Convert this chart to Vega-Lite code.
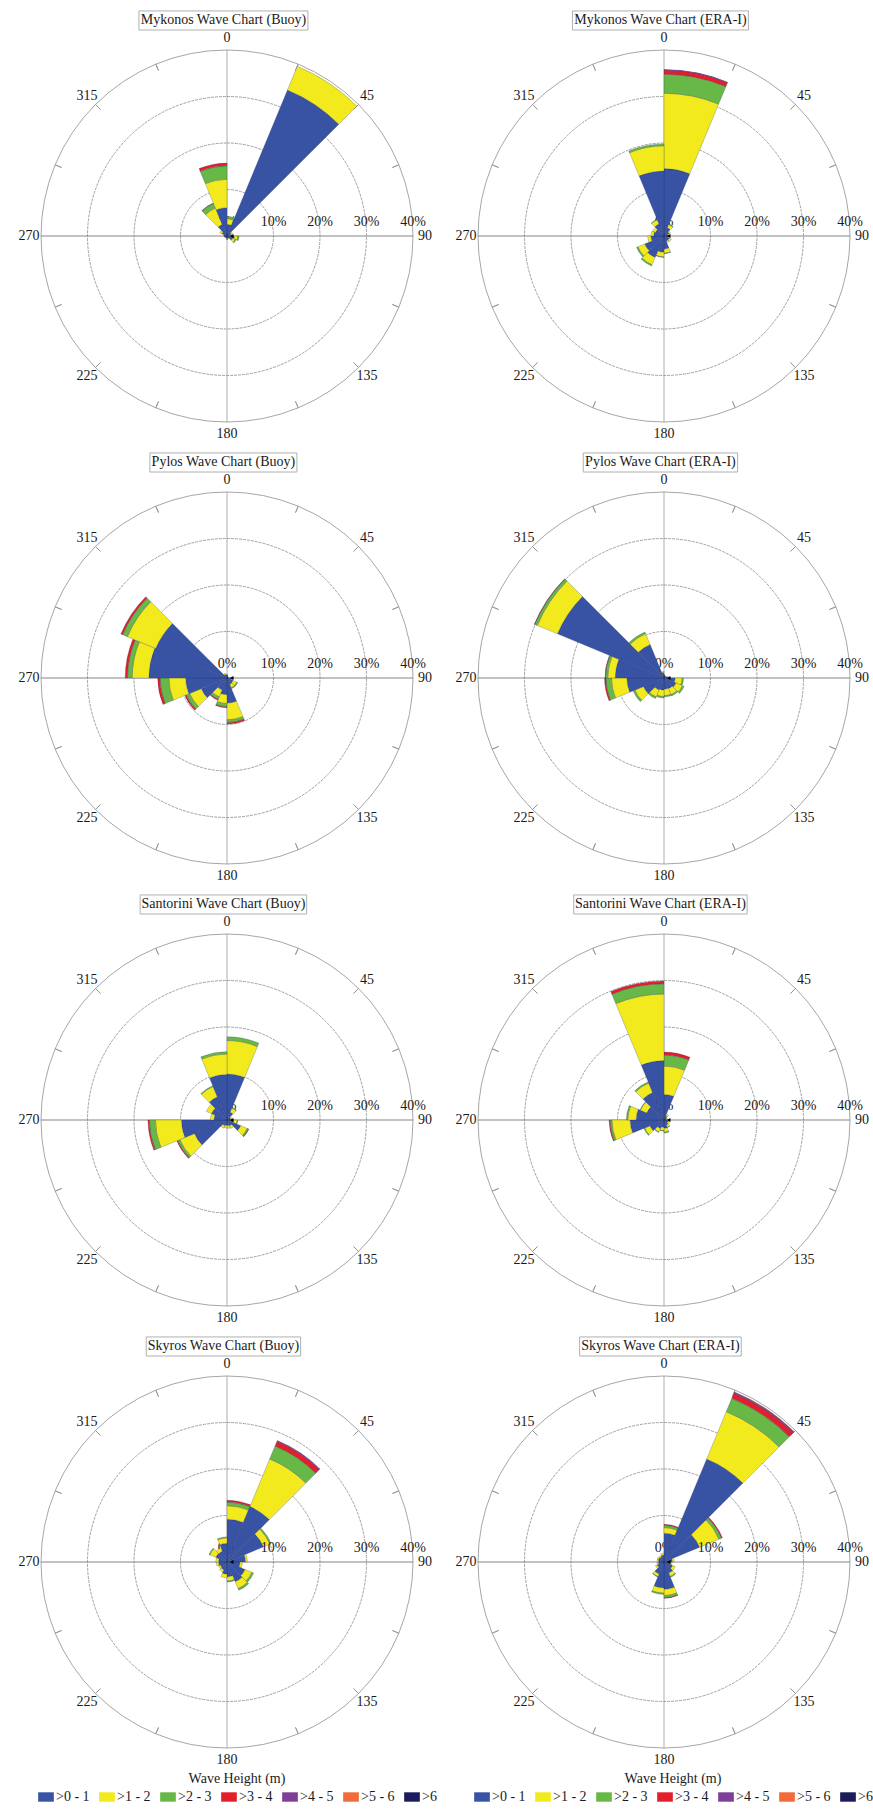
{
  "$schema": "https://vega.github.io/schema/vega-lite/v6.json",
  "background": "white",
  "padding": 0,
  "spacing": 0,
  "config": {
    "view": {"stroke": null},
    "axis": {"disable": true},
    "text": {"font": "Liberation Serif", "fontSize": 14, "color": "#1a1a1a"},
    "legend": {"layout": {"bottom": {"anchor": "end"}}}
  },
  "datasets": {
    "rings": [{"r": 10}, {"r": 20}, {"r": 30}],
    "ticks": [{"a": 22.5}, {"a": 45}, {"a": 67.5}, {"a": 112.5}, {"a": 135}, {"a": 157.5}, {"a": 202.5}, {"a": 225}, {"a": 247.5}, {"a": 292.5}, {"a": 315}, {"a": 337.5}],
    "axticks": [{"t": 5}, {"t": 15}, {"t": 25}, {"t": 35}],
    "pct": [{"r": 10, "lab": "10%"}, {"r": 20, "lab": "20%"}, {"r": 30, "lab": "30%"}, {"r": 40, "lab": "40%"}],
    "dirs": [{"a": 0, "lab": "0"}, {"a": 45, "lab": "45"}, {"a": 90, "lab": "90"}, {"a": 135, "lab": "135"}, {"a": 180, "lab": "180"}, {"a": 225, "lab": "225"}, {"a": 270, "lab": "270"}, {"a": 315, "lab": "315"}],
    "MB": [
      {"d": 0, "h": ">0 - 1", "v": 2.5}, {"d": 0, "h": ">1 - 2", "v": 1.2}, {"d": 0, "h": ">2 - 3", "v": 0.5},
      {"d": 22.5, "h": ">0 - 1", "v": 34}, {"d": 22.5, "h": ">1 - 2", "v": 5.5},
      {"d": 45, "h": ">0 - 1", "v": 1.0}, {"d": 45, "h": ">1 - 2", "v": 0.3},
      {"d": 67.5, "h": ">0 - 1", "v": 0.6}, {"d": 67.5, "h": ">1 - 2", "v": 0.1},
      {"d": 90, "h": ">0 - 1", "v": 1.6}, {"d": 90, "h": ">1 - 2", "v": 0.7}, {"d": 90, "h": ">2 - 3", "v": 0.3},
      {"d": 112.5, "h": ">0 - 1", "v": 1.3}, {"d": 112.5, "h": ">1 - 2", "v": 0.6}, {"d": 112.5, "h": ">2 - 3", "v": 0.2},
      {"d": 135, "h": ">0 - 1", "v": 0.5}, {"d": 135, "h": ">1 - 2", "v": 0.2},
      {"d": 157.5, "h": ">0 - 1", "v": 0.4},
      {"d": 180, "h": ">0 - 1", "v": 0.4},
      {"d": 202.5, "h": ">0 - 1", "v": 0.4},
      {"d": 225, "h": ">0 - 1", "v": 0.5},
      {"d": 247.5, "h": ">0 - 1", "v": 0.6},
      {"d": 270, "h": ">0 - 1", "v": 0.7},
      {"d": 292.5, "h": ">0 - 1", "v": 1.2}, {"d": 292.5, "h": ">1 - 2", "v": 0.5},
      {"d": 315, "h": ">0 - 1", "v": 2.7}, {"d": 315, "h": ">1 - 2", "v": 3.8}, {"d": 315, "h": ">2 - 3", "v": 1.1}, {"d": 315, "h": ">3 - 4", "v": 0.1},
      {"d": 337.5, "h": ">0 - 1", "v": 6.1}, {"d": 337.5, "h": ">1 - 2", "v": 6.1}, {"d": 337.5, "h": ">2 - 3", "v": 2.9}, {"d": 337.5, "h": ">3 - 4", "v": 0.6}
    ],
    "ME": [
      {"d": 0, "h": ">0 - 1", "v": 14.5}, {"d": 0, "h": ">1 - 2", "v": 16.2}, {"d": 0, "h": ">2 - 3", "v": 4.1}, {"d": 0, "h": ">3 - 4", "v": 0.9}, {"d": 0, "h": ">4 - 5", "v": 0.1},
      {"d": 22.5, "h": ">0 - 1", "v": 1.9}, {"d": 22.5, "h": ">1 - 2", "v": 0.8}, {"d": 22.5, "h": ">2 - 3", "v": 0.1},
      {"d": 45, "h": ">0 - 1", "v": 1.2}, {"d": 45, "h": ">1 - 2", "v": 0.3},
      {"d": 67.5, "h": ">0 - 1", "v": 0.8}, {"d": 67.5, "h": ">1 - 2", "v": 0.2},
      {"d": 90, "h": ">0 - 1", "v": 0.9}, {"d": 90, "h": ">1 - 2", "v": 0.3},
      {"d": 112.5, "h": ">0 - 1", "v": 1.2}, {"d": 112.5, "h": ">1 - 2", "v": 0.5},
      {"d": 135, "h": ">0 - 1", "v": 1.2}, {"d": 135, "h": ">1 - 2", "v": 0.4},
      {"d": 157.5, "h": ">0 - 1", "v": 2.8}, {"d": 157.5, "h": ">1 - 2", "v": 0.9}, {"d": 157.5, "h": ">2 - 3", "v": 0.1},
      {"d": 180, "h": ">0 - 1", "v": 3.5}, {"d": 180, "h": ">1 - 2", "v": 1.0}, {"d": 180, "h": ">2 - 3", "v": 0.1},
      {"d": 202.5, "h": ">0 - 1", "v": 5.0}, {"d": 202.5, "h": ">1 - 2", "v": 1.7}, {"d": 202.5, "h": ">2 - 3", "v": 0.3},
      {"d": 225, "h": ">0 - 1", "v": 4.5}, {"d": 225, "h": ">1 - 2", "v": 1.6}, {"d": 225, "h": ">2 - 3", "v": 0.3},
      {"d": 247.5, "h": ">0 - 1", "v": 2.8}, {"d": 247.5, "h": ">1 - 2", "v": 0.7},
      {"d": 270, "h": ">0 - 1", "v": 2.2}, {"d": 270, "h": ">1 - 2", "v": 0.6},
      {"d": 292.5, "h": ">0 - 1", "v": 2.0}, {"d": 292.5, "h": ">1 - 2", "v": 0.6},
      {"d": 315, "h": ">0 - 1", "v": 2.8}, {"d": 315, "h": ">1 - 2", "v": 1.0}, {"d": 315, "h": ">2 - 3", "v": 0.1},
      {"d": 337.5, "h": ">0 - 1", "v": 14.0}, {"d": 337.5, "h": ">1 - 2", "v": 5.4}, {"d": 337.5, "h": ">2 - 3", "v": 0.4}
    ],
    "PB": [
      {"d": 0, "h": ">0 - 1", "v": 0.5},
      {"d": 22.5, "h": ">0 - 1", "v": 0.3},
      {"d": 45, "h": ">0 - 1", "v": 0.3},
      {"d": 67.5, "h": ">0 - 1", "v": 0.4},
      {"d": 90, "h": ">0 - 1", "v": 0.9}, {"d": 90, "h": ">1 - 2", "v": 0.4},
      {"d": 112.5, "h": ">0 - 1", "v": 1.4}, {"d": 112.5, "h": ">1 - 2", "v": 0.9}, {"d": 112.5, "h": ">2 - 3", "v": 0.2},
      {"d": 135, "h": ">0 - 1", "v": 1.5}, {"d": 135, "h": ">1 - 2", "v": 0.8}, {"d": 135, "h": ">2 - 3", "v": 0.2},
      {"d": 157.5, "h": ">0 - 1", "v": 5.4}, {"d": 157.5, "h": ">1 - 2", "v": 3.6}, {"d": 157.5, "h": ">2 - 3", "v": 0.6}, {"d": 157.5, "h": ">3 - 4", "v": 0.3},
      {"d": 180, "h": ">0 - 1", "v": 3.6}, {"d": 180, "h": ">1 - 2", "v": 1.9}, {"d": 180, "h": ">2 - 3", "v": 0.7}, {"d": 180, "h": ">3 - 4", "v": 0.2},
      {"d": 202.5, "h": ">0 - 1", "v": 2.8}, {"d": 202.5, "h": ">1 - 2", "v": 1.6}, {"d": 202.5, "h": ">2 - 3", "v": 0.6}, {"d": 202.5, "h": ">3 - 4", "v": 0.2},
      {"d": 225, "h": ">0 - 1", "v": 6.0}, {"d": 225, "h": ">1 - 2", "v": 2.7}, {"d": 225, "h": ">2 - 3", "v": 0.8}, {"d": 225, "h": ">3 - 4", "v": 0.3},
      {"d": 247.5, "h": ">0 - 1", "v": 8.9}, {"d": 247.5, "h": ">1 - 2", "v": 3.6}, {"d": 247.5, "h": ">2 - 3", "v": 1.9}, {"d": 247.5, "h": ">3 - 4", "v": 0.5},
      {"d": 270, "h": ">0 - 1", "v": 16.8}, {"d": 270, "h": ">1 - 2", "v": 3.6}, {"d": 270, "h": ">2 - 3", "v": 1.0}, {"d": 270, "h": ">3 - 4", "v": 0.5},
      {"d": 292.5, "h": ">0 - 1", "v": 16.6}, {"d": 292.5, "h": ">1 - 2", "v": 6.6}, {"d": 292.5, "h": ">2 - 3", "v": 1.1}, {"d": 292.5, "h": ">3 - 4", "v": 0.4},
      {"d": 315, "h": ">0 - 1", "v": 0.9}, {"d": 315, "h": ">1 - 2", "v": 0.2},
      {"d": 337.5, "h": ">0 - 1", "v": 0.6}
    ],
    "PE": [
      {"d": 0, "h": ">0 - 1", "v": 0.6},
      {"d": 22.5, "h": ">0 - 1", "v": 0.5},
      {"d": 45, "h": ">0 - 1", "v": 0.5},
      {"d": 67.5, "h": ">0 - 1", "v": 0.7}, {"d": 67.5, "h": ">1 - 2", "v": 0.2},
      {"d": 90, "h": ">0 - 1", "v": 2.4}, {"d": 90, "h": ">1 - 2", "v": 1.5}, {"d": 90, "h": ">2 - 3", "v": 0.3},
      {"d": 112.5, "h": ">0 - 1", "v": 2.8}, {"d": 112.5, "h": ">1 - 2", "v": 1.5}, {"d": 112.5, "h": ">2 - 3", "v": 0.4},
      {"d": 135, "h": ">0 - 1", "v": 2.5}, {"d": 135, "h": ">1 - 2", "v": 1.4}, {"d": 135, "h": ">2 - 3", "v": 0.3},
      {"d": 157.5, "h": ">0 - 1", "v": 2.4}, {"d": 157.5, "h": ">1 - 2", "v": 1.4}, {"d": 157.5, "h": ">2 - 3", "v": 0.3},
      {"d": 180, "h": ">0 - 1", "v": 2.6}, {"d": 180, "h": ">1 - 2", "v": 1.4}, {"d": 180, "h": ">2 - 3", "v": 0.3},
      {"d": 202.5, "h": ">0 - 1", "v": 2.8}, {"d": 202.5, "h": ">1 - 2", "v": 1.6}, {"d": 202.5, "h": ">2 - 3", "v": 0.4},
      {"d": 225, "h": ">0 - 1", "v": 4.8}, {"d": 225, "h": ">1 - 2", "v": 2.0}, {"d": 225, "h": ">2 - 3", "v": 0.4},
      {"d": 247.5, "h": ">0 - 1", "v": 8.0}, {"d": 247.5, "h": ">1 - 2", "v": 3.3}, {"d": 247.5, "h": ">2 - 3", "v": 1.2}, {"d": 247.5, "h": ">3 - 4", "v": 0.3},
      {"d": 270, "h": ">0 - 1", "v": 10.5}, {"d": 270, "h": ">1 - 2", "v": 1.6}, {"d": 270, "h": ">2 - 3", "v": 0.5}, {"d": 270, "h": ">3 - 4", "v": 0.1},
      {"d": 292.5, "h": ">0 - 1", "v": 24.8}, {"d": 292.5, "h": ">1 - 2", "v": 4.7}, {"d": 292.5, "h": ">2 - 3", "v": 0.6}, {"d": 292.5, "h": ">3 - 4", "v": 0.1},
      {"d": 315, "h": ">0 - 1", "v": 7.8}, {"d": 315, "h": ">1 - 2", "v": 2.5}, {"d": 315, "h": ">2 - 3", "v": 0.4},
      {"d": 337.5, "h": ">0 - 1", "v": 1.2}, {"d": 337.5, "h": ">1 - 2", "v": 0.2}
    ],
    "SB": [
      {"d": 0, "h": ">0 - 1", "v": 9.9}, {"d": 0, "h": ">1 - 2", "v": 7.2}, {"d": 0, "h": ">2 - 3", "v": 0.8},
      {"d": 22.5, "h": ">0 - 1", "v": 1.8}, {"d": 22.5, "h": ">1 - 2", "v": 1.0}, {"d": 22.5, "h": ">2 - 3", "v": 0.1},
      {"d": 45, "h": ">0 - 1", "v": 0.8}, {"d": 45, "h": ">1 - 2", "v": 0.3},
      {"d": 67.5, "h": ">0 - 1", "v": 0.7}, {"d": 67.5, "h": ">1 - 2", "v": 0.2},
      {"d": 90, "h": ">0 - 1", "v": 1.4}, {"d": 90, "h": ">1 - 2", "v": 0.8}, {"d": 90, "h": ">2 - 3", "v": 0.1},
      {"d": 112.5, "h": ">0 - 1", "v": 3.2}, {"d": 112.5, "h": ">1 - 2", "v": 1.5}, {"d": 112.5, "h": ">2 - 3", "v": 0.3}, {"d": 112.5, "h": ">3 - 4", "v": 0.1},
      {"d": 135, "h": ">0 - 1", "v": 1.4}, {"d": 135, "h": ">1 - 2", "v": 0.6},
      {"d": 157.5, "h": ">0 - 1", "v": 1.2}, {"d": 157.5, "h": ">1 - 2", "v": 0.6},
      {"d": 180, "h": ">0 - 1", "v": 1.2}, {"d": 180, "h": ">1 - 2", "v": 0.5},
      {"d": 202.5, "h": ">0 - 1", "v": 1.3}, {"d": 202.5, "h": ">1 - 2", "v": 0.6},
      {"d": 225, "h": ">0 - 1", "v": 7.6}, {"d": 225, "h": ">1 - 2", "v": 3.4}, {"d": 225, "h": ">2 - 3", "v": 0.5}, {"d": 225, "h": ">3 - 4", "v": 0.2},
      {"d": 247.5, "h": ">0 - 1", "v": 9.8}, {"d": 247.5, "h": ">1 - 2", "v": 5.6}, {"d": 247.5, "h": ">2 - 3", "v": 1.3}, {"d": 247.5, "h": ">3 - 4", "v": 0.3},
      {"d": 270, "h": ">0 - 1", "v": 2.8}, {"d": 270, "h": ">1 - 2", "v": 0.8},
      {"d": 292.5, "h": ">0 - 1", "v": 3.6}, {"d": 292.5, "h": ">1 - 2", "v": 1.2},
      {"d": 315, "h": ">0 - 1", "v": 5.4}, {"d": 315, "h": ">1 - 2", "v": 2.4}, {"d": 315, "h": ">2 - 3", "v": 0.2},
      {"d": 337.5, "h": ">0 - 1", "v": 9.8}, {"d": 337.5, "h": ">1 - 2", "v": 4.4}, {"d": 337.5, "h": ">2 - 3", "v": 0.5}
    ],
    "SE": [
      {"d": 0, "h": ">0 - 1", "v": 5.5}, {"d": 0, "h": ">1 - 2", "v": 6.1}, {"d": 0, "h": ">2 - 3", "v": 2.4}, {"d": 0, "h": ">3 - 4", "v": 0.6},
      {"d": 22.5, "h": ">0 - 1", "v": 1.0}, {"d": 22.5, "h": ">1 - 2", "v": 0.4},
      {"d": 45, "h": ">0 - 1", "v": 0.6}, {"d": 45, "h": ">1 - 2", "v": 0.2},
      {"d": 67.5, "h": ">0 - 1", "v": 0.5}, {"d": 67.5, "h": ">1 - 2", "v": 0.1},
      {"d": 90, "h": ">0 - 1", "v": 0.8}, {"d": 90, "h": ">1 - 2", "v": 0.3},
      {"d": 112.5, "h": ">0 - 1", "v": 0.9}, {"d": 112.5, "h": ">1 - 2", "v": 0.4},
      {"d": 135, "h": ">0 - 1", "v": 1.2}, {"d": 135, "h": ">1 - 2", "v": 0.5}, {"d": 135, "h": ">2 - 3", "v": 0.1},
      {"d": 157.5, "h": ">0 - 1", "v": 1.8}, {"d": 157.5, "h": ">1 - 2", "v": 0.8}, {"d": 157.5, "h": ">2 - 3", "v": 0.2},
      {"d": 180, "h": ">0 - 1", "v": 1.6}, {"d": 180, "h": ">1 - 2", "v": 0.7}, {"d": 180, "h": ">2 - 3", "v": 0.1},
      {"d": 202.5, "h": ">0 - 1", "v": 2.0}, {"d": 202.5, "h": ">1 - 2", "v": 0.8}, {"d": 202.5, "h": ">2 - 3", "v": 0.1},
      {"d": 225, "h": ">0 - 1", "v": 3.3}, {"d": 225, "h": ">1 - 2", "v": 1.2}, {"d": 225, "h": ">2 - 3", "v": 0.2},
      {"d": 247.5, "h": ">0 - 1", "v": 7.3}, {"d": 247.5, "h": ">1 - 2", "v": 3.9}, {"d": 247.5, "h": ">2 - 3", "v": 0.4}, {"d": 247.5, "h": ">3 - 4", "v": 0.2},
      {"d": 270, "h": ">0 - 1", "v": 6.0}, {"d": 270, "h": ">1 - 2", "v": 1.8}, {"d": 270, "h": ">2 - 3", "v": 0.3},
      {"d": 292.5, "h": ">0 - 1", "v": 4.0}, {"d": 292.5, "h": ">1 - 2", "v": 1.5}, {"d": 292.5, "h": ">2 - 3", "v": 0.1},
      {"d": 315, "h": ">0 - 1", "v": 6.4}, {"d": 315, "h": ">1 - 2", "v": 2.2}, {"d": 315, "h": ">2 - 3", "v": 0.3},
      {"d": 337.5, "h": ">0 - 1", "v": 12.8}, {"d": 337.5, "h": ">1 - 2", "v": 14.3}, {"d": 337.5, "h": ">2 - 3", "v": 2.2}, {"d": 337.5, "h": ">3 - 4", "v": 0.6}
    ],
    "KB": [
      {"d": 0, "h": ">0 - 1", "v": 9.2}, {"d": 0, "h": ">1 - 2", "v": 2.9}, {"d": 0, "h": ">2 - 3", "v": 0.8}, {"d": 0, "h": ">3 - 4", "v": 0.4},
      {"d": 22.5, "h": ">0 - 1", "v": 12.9}, {"d": 22.5, "h": ">1 - 2", "v": 11.1}, {"d": 22.5, "h": ">2 - 3", "v": 3.0}, {"d": 22.5, "h": ">3 - 4", "v": 1.1}, {"d": 22.5, "h": ">4 - 5", "v": 0.2},
      {"d": 45, "h": ">0 - 1", "v": 8.5}, {"d": 45, "h": ">1 - 2", "v": 1.5}, {"d": 45, "h": ">2 - 3", "v": 0.3},
      {"d": 67.5, "h": ">0 - 1", "v": 4.0}, {"d": 67.5, "h": ">1 - 2", "v": 0.4},
      {"d": 90, "h": ">0 - 1", "v": 2.8}, {"d": 90, "h": ">1 - 2", "v": 0.5},
      {"d": 112.5, "h": ">0 - 1", "v": 4.2}, {"d": 112.5, "h": ">1 - 2", "v": 1.6}, {"d": 112.5, "h": ">2 - 3", "v": 0.4},
      {"d": 135, "h": ">0 - 1", "v": 4.6}, {"d": 135, "h": ">1 - 2", "v": 1.6}, {"d": 135, "h": ">2 - 3", "v": 0.4},
      {"d": 157.5, "h": ">0 - 1", "v": 3.2}, {"d": 157.5, "h": ">1 - 2", "v": 0.9}, {"d": 157.5, "h": ">2 - 3", "v": 0.2},
      {"d": 180, "h": ">0 - 1", "v": 2.6}, {"d": 180, "h": ">1 - 2", "v": 0.8},
      {"d": 202.5, "h": ">0 - 1", "v": 1.8}, {"d": 202.5, "h": ">1 - 2", "v": 0.5},
      {"d": 225, "h": ">0 - 1", "v": 1.6}, {"d": 225, "h": ">1 - 2", "v": 0.4},
      {"d": 247.5, "h": ">0 - 1", "v": 1.8}, {"d": 247.5, "h": ">1 - 2", "v": 0.5},
      {"d": 270, "h": ">0 - 1", "v": 1.8}, {"d": 270, "h": ">1 - 2", "v": 0.6},
      {"d": 292.5, "h": ">0 - 1", "v": 2.6}, {"d": 292.5, "h": ">1 - 2", "v": 1.4}, {"d": 292.5, "h": ">2 - 3", "v": 0.2},
      {"d": 315, "h": ">0 - 1", "v": 2.5}, {"d": 315, "h": ">1 - 2", "v": 0.8},
      {"d": 337.5, "h": ">0 - 1", "v": 4.0}, {"d": 337.5, "h": ">1 - 2", "v": 1.2}, {"d": 337.5, "h": ">2 - 3", "v": 0.2}
    ],
    "KE": [
      {"d": 0, "h": ">0 - 1", "v": 6.2}, {"d": 0, "h": ">1 - 2", "v": 1.2}, {"d": 0, "h": ">2 - 3", "v": 0.5}, {"d": 0, "h": ">3 - 4", "v": 0.2},
      {"d": 22.5, "h": ">0 - 1", "v": 24.0}, {"d": 22.5, "h": ">1 - 2", "v": 11.0}, {"d": 22.5, "h": ">2 - 3", "v": 3.1}, {"d": 22.5, "h": ">3 - 4", "v": 1.2}, {"d": 22.5, "h": ">4 - 5", "v": 0.2}, {"d": 22.5, "h": ">5 - 6", "v": 0.1},
      {"d": 45, "h": ">0 - 1", "v": 8.3}, {"d": 45, "h": ">1 - 2", "v": 4.5}, {"d": 45, "h": ">2 - 3", "v": 0.6}, {"d": 45, "h": ">3 - 4", "v": 0.2},
      {"d": 67.5, "h": ">0 - 1", "v": 1.8}, {"d": 67.5, "h": ">1 - 2", "v": 0.4},
      {"d": 90, "h": ">0 - 1", "v": 1.4}, {"d": 90, "h": ">1 - 2", "v": 0.3},
      {"d": 112.5, "h": ">0 - 1", "v": 2.0}, {"d": 112.5, "h": ">1 - 2", "v": 0.6},
      {"d": 135, "h": ">0 - 1", "v": 2.6}, {"d": 135, "h": ">1 - 2", "v": 0.8}, {"d": 135, "h": ">2 - 3", "v": 0.2},
      {"d": 157.5, "h": ">0 - 1", "v": 5.9}, {"d": 157.5, "h": ">1 - 2", "v": 1.3}, {"d": 157.5, "h": ">2 - 3", "v": 0.5}, {"d": 157.5, "h": ">3 - 4", "v": 0.1},
      {"d": 180, "h": ">0 - 1", "v": 5.6}, {"d": 180, "h": ">1 - 2", "v": 1.1}, {"d": 180, "h": ">2 - 3", "v": 0.3},
      {"d": 202.5, "h": ">0 - 1", "v": 2.8}, {"d": 202.5, "h": ">1 - 2", "v": 0.6}, {"d": 202.5, "h": ">2 - 3", "v": 0.1},
      {"d": 225, "h": ">0 - 1", "v": 1.6}, {"d": 225, "h": ">1 - 2", "v": 0.4},
      {"d": 247.5, "h": ">0 - 1", "v": 1.2}, {"d": 247.5, "h": ">1 - 2", "v": 0.3},
      {"d": 270, "h": ">0 - 1", "v": 1.2}, {"d": 270, "h": ">1 - 2", "v": 0.3},
      {"d": 292.5, "h": ">0 - 1", "v": 1.3}, {"d": 292.5, "h": ">1 - 2", "v": 0.3},
      {"d": 315, "h": ">0 - 1", "v": 1.2}, {"d": 315, "h": ">1 - 2", "v": 0.3},
      {"d": 337.5, "h": ">0 - 1", "v": 1.5}, {"d": 337.5, "h": ">1 - 2", "v": 0.4}
    ]
  },
  "resolve": {"scale": {"color": "independent"}, "legend": {"color": "independent"}},
  "vconcat": [
    {
      "spacing": 0,
      "resolve": {"scale": {"color": "independent"}, "legend": {"color": "independent"}},
      "hconcat": [
        {
          "width": 437, "height": 441,
          "data": {"values": [{}]},
          "encoding": {
            "x": {"datum": 0, "type": "quantitative", "scale": {"domain": [-48.817, 45.161], "nice": false, "zero": false}},
            "y": {"datum": 0, "type": "quantitative", "scale": {"domain": [-44.086, 50.753], "nice": false, "zero": false}}
          },
          "layer": [
            {"data": {"name": "rings"}, "mark": {"type": "arc", "fillOpacity": 0, "stroke": "#8a8a8a", "strokeWidth": 0.8, "strokeDash": [3, 1]}, "encoding": {"theta": {"datum": 0, "type": "quantitative", "scale": {"domain": [0, 360], "range": [0, 6.283185307179586]}}, "theta2": {"datum": 360}, "radius": {"field": "r", "type": "quantitative", "stack": null, "scale": {"type": "linear", "domain": [0, 40], "range": [0, 186], "zero": true, "nice": false}}}},
            {"mark": {"type": "arc", "fillOpacity": 0, "stroke": "#8f8f8f", "strokeWidth": 0.8}, "encoding": {"theta": {"datum": 0, "type": "quantitative"}, "theta2": {"datum": 360}, "radius": {"datum": 40, "type": "quantitative"}}},
            {"data": {"name": "ticks"}, "mark": {"type": "arc", "fillOpacity": 0, "stroke": "#8f8f8f", "strokeWidth": 0.8}, "encoding": {"theta": {"field": "a", "type": "quantitative", "stack": null}, "theta2": {"field": "a"}, "radius": {"datum": 40, "type": "quantitative"}, "radius2": {"datum": 38.5}}},
            {"mark": {"type": "rule", "color": "#9a9a9a", "strokeWidth": 0.8}, "encoding": {"y": {"datum": -40, "type": "quantitative"}, "y2": {"datum": 40}}},
            {"mark": {"type": "rule", "color": "#777777", "strokeWidth": 0.9}, "encoding": {"x": {"datum": -40, "type": "quantitative"}, "x2": {"datum": 40}}},
            {"data": {"name": "axticks"}, "mark": {"type": "rule", "color": "#777777", "strokeWidth": 0.8}, "encoding": {"x": {"field": "t", "type": "quantitative"}, "y": {"datum": -0.8, "type": "quantitative"}, "y2": {"datum": 0.8}}},
            {"mark": {"type": "text", "text": "0%", "dy": -14}, "encoding": {}},
            {"data": {"name": "MB"}, "transform": [{"bin": {"step": 22.5, "extent": [0, 360]}, "field": "d", "as": ["a0", "a1"]}, {"stack": "v", "groupby": ["a0"], "sort": [{"field": "h", "order": "ascending"}], "as": ["r0", "r1"]}], "mark": {"type": "arc", "stroke": "#1f2a5e", "strokeWidth": 0.4, "strokeOpacity": 0.6}, "encoding": {"theta": {"field": "a0", "type": "quantitative", "stack": null}, "theta2": {"field": "a1"}, "radius": {"field": "r1", "type": "quantitative", "stack": null}, "radius2": {"field": "r0"}, "color": {"field": "h", "type": "nominal", "scale": {"domain": [">0 - 1", ">1 - 2", ">2 - 3", ">3 - 4", ">4 - 5", ">5 - 6", ">6"], "range": ["#3953a4", "#f2ea1d", "#67b846", "#e31f2b", "#7f3f98", "#f26b3a", "#1c1c5c"]}, "legend": null}}},
            {"data": {"name": "pct"}, "mark": {"type": "text", "dy": -14}, "encoding": {"theta": {"datum": 90, "type": "quantitative"}, "radius": {"field": "r", "type": "quantitative", "stack": null}, "text": {"field": "lab", "type": "nominal"}}},
            {"data": {"name": "dirs"}, "mark": {"type": "text"}, "encoding": {"theta": {"field": "a", "type": "quantitative", "stack": null}, "radius": {"datum": 42.6, "type": "quantitative"}, "text": {"field": "lab", "type": "nominal"}}},
            {"mark": {"type": "point", "shape": "triangle-left", "filled": true, "color": "#000000", "opacity": 1, "size": 18}, "encoding": {"x": {"datum": 1, "type": "quantitative"}}},
            {"mark": {"type": "rect", "fill": "#ffffff", "stroke": "#b0b0b0", "strokeWidth": 1}, "encoding": {"x": {"datum": -18.94, "type": "quantitative"}, "x2": {"datum": 17.4}, "y": {"datum": 44.3, "type": "quantitative"}, "y2": {"datum": 48.4}}},
            {"mark": {"type": "text", "text": "Mykonos Wave Chart (Buoy)"}, "encoding": {"x": {"datum": -0.77, "type": "quantitative"}, "y": {"datum": 46.35, "type": "quantitative"}}}
          ]
        },
        {
          "width": 436, "height": 441,
          "data": {"values": [{}]},
          "encoding": {
            "x": {"datum": 0, "type": "quantitative", "scale": {"domain": [-48.817, 44.946], "nice": false, "zero": false}},
            "y": {"datum": 0, "type": "quantitative", "scale": {"domain": [-44.086, 50.753], "nice": false, "zero": false}}
          },
          "layer": [
            {"data": {"name": "rings"}, "mark": {"type": "arc", "fillOpacity": 0, "stroke": "#8a8a8a", "strokeWidth": 0.8, "strokeDash": [3, 1]}, "encoding": {"theta": {"datum": 0, "type": "quantitative", "scale": {"domain": [0, 360], "range": [0, 6.283185307179586]}}, "theta2": {"datum": 360}, "radius": {"field": "r", "type": "quantitative", "stack": null, "scale": {"type": "linear", "domain": [0, 40], "range": [0, 186], "zero": true, "nice": false}}}},
            {"mark": {"type": "arc", "fillOpacity": 0, "stroke": "#8f8f8f", "strokeWidth": 0.8}, "encoding": {"theta": {"datum": 0, "type": "quantitative"}, "theta2": {"datum": 360}, "radius": {"datum": 40, "type": "quantitative"}}},
            {"data": {"name": "ticks"}, "mark": {"type": "arc", "fillOpacity": 0, "stroke": "#8f8f8f", "strokeWidth": 0.8}, "encoding": {"theta": {"field": "a", "type": "quantitative", "stack": null}, "theta2": {"field": "a"}, "radius": {"datum": 40, "type": "quantitative"}, "radius2": {"datum": 38.5}}},
            {"mark": {"type": "rule", "color": "#9a9a9a", "strokeWidth": 0.8}, "encoding": {"y": {"datum": -40, "type": "quantitative"}, "y2": {"datum": 40}}},
            {"mark": {"type": "rule", "color": "#777777", "strokeWidth": 0.9}, "encoding": {"x": {"datum": -40, "type": "quantitative"}, "x2": {"datum": 40}}},
            {"data": {"name": "axticks"}, "mark": {"type": "rule", "color": "#777777", "strokeWidth": 0.8}, "encoding": {"x": {"field": "t", "type": "quantitative"}, "y": {"datum": -0.8, "type": "quantitative"}, "y2": {"datum": 0.8}}},
            {"mark": {"type": "text", "text": "0%", "dy": -14}, "encoding": {}},
            {"data": {"name": "ME"}, "transform": [{"bin": {"step": 22.5, "extent": [0, 360]}, "field": "d", "as": ["a0", "a1"]}, {"stack": "v", "groupby": ["a0"], "sort": [{"field": "h", "order": "ascending"}], "as": ["r0", "r1"]}], "mark": {"type": "arc", "stroke": "#1f2a5e", "strokeWidth": 0.4, "strokeOpacity": 0.6}, "encoding": {"theta": {"field": "a0", "type": "quantitative", "stack": null}, "theta2": {"field": "a1"}, "radius": {"field": "r1", "type": "quantitative", "stack": null}, "radius2": {"field": "r0"}, "color": {"field": "h", "type": "nominal", "scale": {"domain": [">0 - 1", ">1 - 2", ">2 - 3", ">3 - 4", ">4 - 5", ">5 - 6", ">6"], "range": ["#3953a4", "#f2ea1d", "#67b846", "#e31f2b", "#7f3f98", "#f26b3a", "#1c1c5c"]}, "legend": null}}},
            {"data": {"name": "pct"}, "mark": {"type": "text", "dy": -14}, "encoding": {"theta": {"datum": 90, "type": "quantitative"}, "radius": {"field": "r", "type": "quantitative", "stack": null}, "text": {"field": "lab", "type": "nominal"}}},
            {"data": {"name": "dirs"}, "mark": {"type": "text"}, "encoding": {"theta": {"field": "a", "type": "quantitative", "stack": null}, "radius": {"datum": 42.6, "type": "quantitative"}, "text": {"field": "lab", "type": "nominal"}}},
            {"mark": {"type": "point", "shape": "triangle-left", "filled": true, "color": "#000000", "opacity": 1, "size": 18}, "encoding": {"x": {"datum": 1, "type": "quantitative"}}},
            {"mark": {"type": "rect", "fill": "#ffffff", "stroke": "#b0b0b0", "strokeWidth": 1}, "encoding": {"x": {"datum": -19.69, "type": "quantitative"}, "x2": {"datum": 18.15}, "y": {"datum": 44.3, "type": "quantitative"}, "y2": {"datum": 48.4}}},
            {"mark": {"type": "text", "text": "Mykonos Wave Chart (ERA-I)"}, "encoding": {"x": {"datum": -0.77, "type": "quantitative"}, "y": {"datum": 46.35, "type": "quantitative"}}}
          ]
        }
      ]
    },
    {
      "spacing": 0,
      "resolve": {"scale": {"color": "independent"}, "legend": {"color": "independent"}},
      "hconcat": [
        {
          "width": 437, "height": 441,
          "data": {"values": [{}]},
          "encoding": {
            "x": {"datum": 0, "type": "quantitative", "scale": {"domain": [-48.817, 45.161], "nice": false, "zero": false}},
            "y": {"datum": 0, "type": "quantitative", "scale": {"domain": [-44.086, 50.753], "nice": false, "zero": false}}
          },
          "layer": [
            {"data": {"name": "rings"}, "mark": {"type": "arc", "fillOpacity": 0, "stroke": "#8a8a8a", "strokeWidth": 0.8, "strokeDash": [3, 1]}, "encoding": {"theta": {"datum": 0, "type": "quantitative", "scale": {"domain": [0, 360], "range": [0, 6.283185307179586]}}, "theta2": {"datum": 360}, "radius": {"field": "r", "type": "quantitative", "stack": null, "scale": {"type": "linear", "domain": [0, 40], "range": [0, 186], "zero": true, "nice": false}}}},
            {"mark": {"type": "arc", "fillOpacity": 0, "stroke": "#8f8f8f", "strokeWidth": 0.8}, "encoding": {"theta": {"datum": 0, "type": "quantitative"}, "theta2": {"datum": 360}, "radius": {"datum": 40, "type": "quantitative"}}},
            {"data": {"name": "ticks"}, "mark": {"type": "arc", "fillOpacity": 0, "stroke": "#8f8f8f", "strokeWidth": 0.8}, "encoding": {"theta": {"field": "a", "type": "quantitative", "stack": null}, "theta2": {"field": "a"}, "radius": {"datum": 40, "type": "quantitative"}, "radius2": {"datum": 38.5}}},
            {"mark": {"type": "rule", "color": "#9a9a9a", "strokeWidth": 0.8}, "encoding": {"y": {"datum": -40, "type": "quantitative"}, "y2": {"datum": 40}}},
            {"mark": {"type": "rule", "color": "#777777", "strokeWidth": 0.9}, "encoding": {"x": {"datum": -40, "type": "quantitative"}, "x2": {"datum": 40}}},
            {"data": {"name": "axticks"}, "mark": {"type": "rule", "color": "#777777", "strokeWidth": 0.8}, "encoding": {"x": {"field": "t", "type": "quantitative"}, "y": {"datum": -0.8, "type": "quantitative"}, "y2": {"datum": 0.8}}},
            {"mark": {"type": "text", "text": "0%", "dy": -14}, "encoding": {}},
            {"data": {"name": "PB"}, "transform": [{"bin": {"step": 22.5, "extent": [0, 360]}, "field": "d", "as": ["a0", "a1"]}, {"stack": "v", "groupby": ["a0"], "sort": [{"field": "h", "order": "ascending"}], "as": ["r0", "r1"]}], "mark": {"type": "arc", "stroke": "#1f2a5e", "strokeWidth": 0.4, "strokeOpacity": 0.6}, "encoding": {"theta": {"field": "a0", "type": "quantitative", "stack": null}, "theta2": {"field": "a1"}, "radius": {"field": "r1", "type": "quantitative", "stack": null}, "radius2": {"field": "r0"}, "color": {"field": "h", "type": "nominal", "scale": {"domain": [">0 - 1", ">1 - 2", ">2 - 3", ">3 - 4", ">4 - 5", ">5 - 6", ">6"], "range": ["#3953a4", "#f2ea1d", "#67b846", "#e31f2b", "#7f3f98", "#f26b3a", "#1c1c5c"]}, "legend": null}}},
            {"data": {"name": "pct"}, "mark": {"type": "text", "dy": -14}, "encoding": {"theta": {"datum": 90, "type": "quantitative"}, "radius": {"field": "r", "type": "quantitative", "stack": null}, "text": {"field": "lab", "type": "nominal"}}},
            {"data": {"name": "dirs"}, "mark": {"type": "text"}, "encoding": {"theta": {"field": "a", "type": "quantitative", "stack": null}, "radius": {"datum": 42.6, "type": "quantitative"}, "text": {"field": "lab", "type": "nominal"}}},
            {"mark": {"type": "point", "shape": "triangle-left", "filled": true, "color": "#000000", "opacity": 1, "size": 18}, "encoding": {"x": {"datum": 1, "type": "quantitative"}}},
            {"mark": {"type": "rect", "fill": "#ffffff", "stroke": "#b0b0b0", "strokeWidth": 1}, "encoding": {"x": {"datum": -16.58, "type": "quantitative"}, "x2": {"datum": 15.04}, "y": {"datum": 44.3, "type": "quantitative"}, "y2": {"datum": 48.4}}},
            {"mark": {"type": "text", "text": "Pylos Wave Chart (Buoy)"}, "encoding": {"x": {"datum": -0.77, "type": "quantitative"}, "y": {"datum": 46.35, "type": "quantitative"}}}
          ]
        },
        {
          "width": 436, "height": 441,
          "data": {"values": [{}]},
          "encoding": {
            "x": {"datum": 0, "type": "quantitative", "scale": {"domain": [-48.817, 44.946], "nice": false, "zero": false}},
            "y": {"datum": 0, "type": "quantitative", "scale": {"domain": [-44.086, 50.753], "nice": false, "zero": false}}
          },
          "layer": [
            {"data": {"name": "rings"}, "mark": {"type": "arc", "fillOpacity": 0, "stroke": "#8a8a8a", "strokeWidth": 0.8, "strokeDash": [3, 1]}, "encoding": {"theta": {"datum": 0, "type": "quantitative", "scale": {"domain": [0, 360], "range": [0, 6.283185307179586]}}, "theta2": {"datum": 360}, "radius": {"field": "r", "type": "quantitative", "stack": null, "scale": {"type": "linear", "domain": [0, 40], "range": [0, 186], "zero": true, "nice": false}}}},
            {"mark": {"type": "arc", "fillOpacity": 0, "stroke": "#8f8f8f", "strokeWidth": 0.8}, "encoding": {"theta": {"datum": 0, "type": "quantitative"}, "theta2": {"datum": 360}, "radius": {"datum": 40, "type": "quantitative"}}},
            {"data": {"name": "ticks"}, "mark": {"type": "arc", "fillOpacity": 0, "stroke": "#8f8f8f", "strokeWidth": 0.8}, "encoding": {"theta": {"field": "a", "type": "quantitative", "stack": null}, "theta2": {"field": "a"}, "radius": {"datum": 40, "type": "quantitative"}, "radius2": {"datum": 38.5}}},
            {"mark": {"type": "rule", "color": "#9a9a9a", "strokeWidth": 0.8}, "encoding": {"y": {"datum": -40, "type": "quantitative"}, "y2": {"datum": 40}}},
            {"mark": {"type": "rule", "color": "#777777", "strokeWidth": 0.9}, "encoding": {"x": {"datum": -40, "type": "quantitative"}, "x2": {"datum": 40}}},
            {"data": {"name": "axticks"}, "mark": {"type": "rule", "color": "#777777", "strokeWidth": 0.8}, "encoding": {"x": {"field": "t", "type": "quantitative"}, "y": {"datum": -0.8, "type": "quantitative"}, "y2": {"datum": 0.8}}},
            {"mark": {"type": "text", "text": "0%", "dy": -14}, "encoding": {}},
            {"data": {"name": "PE"}, "transform": [{"bin": {"step": 22.5, "extent": [0, 360]}, "field": "d", "as": ["a0", "a1"]}, {"stack": "v", "groupby": ["a0"], "sort": [{"field": "h", "order": "ascending"}], "as": ["r0", "r1"]}], "mark": {"type": "arc", "stroke": "#1f2a5e", "strokeWidth": 0.4, "strokeOpacity": 0.6}, "encoding": {"theta": {"field": "a0", "type": "quantitative", "stack": null}, "theta2": {"field": "a1"}, "radius": {"field": "r1", "type": "quantitative", "stack": null}, "radius2": {"field": "r0"}, "color": {"field": "h", "type": "nominal", "scale": {"domain": [">0 - 1", ">1 - 2", ">2 - 3", ">3 - 4", ">4 - 5", ">5 - 6", ">6"], "range": ["#3953a4", "#f2ea1d", "#67b846", "#e31f2b", "#7f3f98", "#f26b3a", "#1c1c5c"]}, "legend": null}}},
            {"data": {"name": "pct"}, "mark": {"type": "text", "dy": -14}, "encoding": {"theta": {"datum": 90, "type": "quantitative"}, "radius": {"field": "r", "type": "quantitative", "stack": null}, "text": {"field": "lab", "type": "nominal"}}},
            {"data": {"name": "dirs"}, "mark": {"type": "text"}, "encoding": {"theta": {"field": "a", "type": "quantitative", "stack": null}, "radius": {"datum": 42.6, "type": "quantitative"}, "text": {"field": "lab", "type": "nominal"}}},
            {"mark": {"type": "point", "shape": "triangle-left", "filled": true, "color": "#000000", "opacity": 1, "size": 18}, "encoding": {"x": {"datum": 1, "type": "quantitative"}}},
            {"mark": {"type": "rect", "fill": "#ffffff", "stroke": "#b0b0b0", "strokeWidth": 1}, "encoding": {"x": {"datum": -17.37, "type": "quantitative"}, "x2": {"datum": 15.83}, "y": {"datum": 44.3, "type": "quantitative"}, "y2": {"datum": 48.4}}},
            {"mark": {"type": "text", "text": "Pylos Wave Chart (ERA-I)"}, "encoding": {"x": {"datum": -0.77, "type": "quantitative"}, "y": {"datum": 46.35, "type": "quantitative"}}}
          ]
        }
      ]
    },
    {
      "spacing": 0,
      "resolve": {"scale": {"color": "independent"}, "legend": {"color": "independent"}},
      "hconcat": [
        {
          "width": 437, "height": 441,
          "data": {"values": [{}]},
          "encoding": {
            "x": {"datum": 0, "type": "quantitative", "scale": {"domain": [-48.817, 45.161], "nice": false, "zero": false}},
            "y": {"datum": 0, "type": "quantitative", "scale": {"domain": [-44.086, 50.753], "nice": false, "zero": false}}
          },
          "layer": [
            {"data": {"name": "rings"}, "mark": {"type": "arc", "fillOpacity": 0, "stroke": "#8a8a8a", "strokeWidth": 0.8, "strokeDash": [3, 1]}, "encoding": {"theta": {"datum": 0, "type": "quantitative", "scale": {"domain": [0, 360], "range": [0, 6.283185307179586]}}, "theta2": {"datum": 360}, "radius": {"field": "r", "type": "quantitative", "stack": null, "scale": {"type": "linear", "domain": [0, 40], "range": [0, 186], "zero": true, "nice": false}}}},
            {"mark": {"type": "arc", "fillOpacity": 0, "stroke": "#8f8f8f", "strokeWidth": 0.8}, "encoding": {"theta": {"datum": 0, "type": "quantitative"}, "theta2": {"datum": 360}, "radius": {"datum": 40, "type": "quantitative"}}},
            {"data": {"name": "ticks"}, "mark": {"type": "arc", "fillOpacity": 0, "stroke": "#8f8f8f", "strokeWidth": 0.8}, "encoding": {"theta": {"field": "a", "type": "quantitative", "stack": null}, "theta2": {"field": "a"}, "radius": {"datum": 40, "type": "quantitative"}, "radius2": {"datum": 38.5}}},
            {"mark": {"type": "rule", "color": "#9a9a9a", "strokeWidth": 0.8}, "encoding": {"y": {"datum": -40, "type": "quantitative"}, "y2": {"datum": 40}}},
            {"mark": {"type": "rule", "color": "#777777", "strokeWidth": 0.9}, "encoding": {"x": {"datum": -40, "type": "quantitative"}, "x2": {"datum": 40}}},
            {"data": {"name": "axticks"}, "mark": {"type": "rule", "color": "#777777", "strokeWidth": 0.8}, "encoding": {"x": {"field": "t", "type": "quantitative"}, "y": {"datum": -0.8, "type": "quantitative"}, "y2": {"datum": 0.8}}},
            {"mark": {"type": "text", "text": "0%", "dy": -14}, "encoding": {}},
            {"data": {"name": "SB"}, "transform": [{"bin": {"step": 22.5, "extent": [0, 360]}, "field": "d", "as": ["a0", "a1"]}, {"stack": "v", "groupby": ["a0"], "sort": [{"field": "h", "order": "ascending"}], "as": ["r0", "r1"]}], "mark": {"type": "arc", "stroke": "#1f2a5e", "strokeWidth": 0.4, "strokeOpacity": 0.6}, "encoding": {"theta": {"field": "a0", "type": "quantitative", "stack": null}, "theta2": {"field": "a1"}, "radius": {"field": "r1", "type": "quantitative", "stack": null}, "radius2": {"field": "r0"}, "color": {"field": "h", "type": "nominal", "scale": {"domain": [">0 - 1", ">1 - 2", ">2 - 3", ">3 - 4", ">4 - 5", ">5 - 6", ">6"], "range": ["#3953a4", "#f2ea1d", "#67b846", "#e31f2b", "#7f3f98", "#f26b3a", "#1c1c5c"]}, "legend": null}}},
            {"data": {"name": "pct"}, "mark": {"type": "text", "dy": -14}, "encoding": {"theta": {"datum": 90, "type": "quantitative"}, "radius": {"field": "r", "type": "quantitative", "stack": null}, "text": {"field": "lab", "type": "nominal"}}},
            {"data": {"name": "dirs"}, "mark": {"type": "text"}, "encoding": {"theta": {"field": "a", "type": "quantitative", "stack": null}, "radius": {"datum": 42.6, "type": "quantitative"}, "text": {"field": "lab", "type": "nominal"}}},
            {"mark": {"type": "point", "shape": "triangle-left", "filled": true, "color": "#000000", "opacity": 1, "size": 18}, "encoding": {"x": {"datum": 1, "type": "quantitative"}}},
            {"mark": {"type": "rect", "fill": "#ffffff", "stroke": "#b0b0b0", "strokeWidth": 1}, "encoding": {"x": {"datum": -18.68, "type": "quantitative"}, "x2": {"datum": 17.14}, "y": {"datum": 44.3, "type": "quantitative"}, "y2": {"datum": 48.4}}},
            {"mark": {"type": "text", "text": "Santorini Wave Chart (Buoy)"}, "encoding": {"x": {"datum": -0.77, "type": "quantitative"}, "y": {"datum": 46.35, "type": "quantitative"}}}
          ]
        },
        {
          "width": 436, "height": 441,
          "data": {"values": [{}]},
          "encoding": {
            "x": {"datum": 0, "type": "quantitative", "scale": {"domain": [-48.817, 44.946], "nice": false, "zero": false}},
            "y": {"datum": 0, "type": "quantitative", "scale": {"domain": [-44.086, 50.753], "nice": false, "zero": false}}
          },
          "layer": [
            {"data": {"name": "rings"}, "mark": {"type": "arc", "fillOpacity": 0, "stroke": "#8a8a8a", "strokeWidth": 0.8, "strokeDash": [3, 1]}, "encoding": {"theta": {"datum": 0, "type": "quantitative", "scale": {"domain": [0, 360], "range": [0, 6.283185307179586]}}, "theta2": {"datum": 360}, "radius": {"field": "r", "type": "quantitative", "stack": null, "scale": {"type": "linear", "domain": [0, 40], "range": [0, 186], "zero": true, "nice": false}}}},
            {"mark": {"type": "arc", "fillOpacity": 0, "stroke": "#8f8f8f", "strokeWidth": 0.8}, "encoding": {"theta": {"datum": 0, "type": "quantitative"}, "theta2": {"datum": 360}, "radius": {"datum": 40, "type": "quantitative"}}},
            {"data": {"name": "ticks"}, "mark": {"type": "arc", "fillOpacity": 0, "stroke": "#8f8f8f", "strokeWidth": 0.8}, "encoding": {"theta": {"field": "a", "type": "quantitative", "stack": null}, "theta2": {"field": "a"}, "radius": {"datum": 40, "type": "quantitative"}, "radius2": {"datum": 38.5}}},
            {"mark": {"type": "rule", "color": "#9a9a9a", "strokeWidth": 0.8}, "encoding": {"y": {"datum": -40, "type": "quantitative"}, "y2": {"datum": 40}}},
            {"mark": {"type": "rule", "color": "#777777", "strokeWidth": 0.9}, "encoding": {"x": {"datum": -40, "type": "quantitative"}, "x2": {"datum": 40}}},
            {"data": {"name": "axticks"}, "mark": {"type": "rule", "color": "#777777", "strokeWidth": 0.8}, "encoding": {"x": {"field": "t", "type": "quantitative"}, "y": {"datum": -0.8, "type": "quantitative"}, "y2": {"datum": 0.8}}},
            {"mark": {"type": "text", "text": "0%", "dy": -14}, "encoding": {}},
            {"data": {"name": "SE"}, "transform": [{"bin": {"step": 22.5, "extent": [0, 360]}, "field": "d", "as": ["a0", "a1"]}, {"stack": "v", "groupby": ["a0"], "sort": [{"field": "h", "order": "ascending"}], "as": ["r0", "r1"]}], "mark": {"type": "arc", "stroke": "#1f2a5e", "strokeWidth": 0.4, "strokeOpacity": 0.6}, "encoding": {"theta": {"field": "a0", "type": "quantitative", "stack": null}, "theta2": {"field": "a1"}, "radius": {"field": "r1", "type": "quantitative", "stack": null}, "radius2": {"field": "r0"}, "color": {"field": "h", "type": "nominal", "scale": {"domain": [">0 - 1", ">1 - 2", ">2 - 3", ">3 - 4", ">4 - 5", ">5 - 6", ">6"], "range": ["#3953a4", "#f2ea1d", "#67b846", "#e31f2b", "#7f3f98", "#f26b3a", "#1c1c5c"]}, "legend": null}}},
            {"data": {"name": "pct"}, "mark": {"type": "text", "dy": -14}, "encoding": {"theta": {"datum": 90, "type": "quantitative"}, "radius": {"field": "r", "type": "quantitative", "stack": null}, "text": {"field": "lab", "type": "nominal"}}},
            {"data": {"name": "dirs"}, "mark": {"type": "text"}, "encoding": {"theta": {"field": "a", "type": "quantitative", "stack": null}, "radius": {"datum": 42.6, "type": "quantitative"}, "text": {"field": "lab", "type": "nominal"}}},
            {"mark": {"type": "point", "shape": "triangle-left", "filled": true, "color": "#000000", "opacity": 1, "size": 18}, "encoding": {"x": {"datum": 1, "type": "quantitative"}}},
            {"mark": {"type": "rect", "fill": "#ffffff", "stroke": "#b0b0b0", "strokeWidth": 1}, "encoding": {"x": {"datum": -19.41, "type": "quantitative"}, "x2": {"datum": 17.87}, "y": {"datum": 44.3, "type": "quantitative"}, "y2": {"datum": 48.4}}},
            {"mark": {"type": "text", "text": "Santorini Wave Chart (ERA-I)"}, "encoding": {"x": {"datum": -0.77, "type": "quantitative"}, "y": {"datum": 46.35, "type": "quantitative"}}}
          ]
        }
      ]
    },
    {
      "spacing": 0,
      "resolve": {"scale": {"color": "independent"}, "legend": {"color": "independent"}},
      "hconcat": [
        {
          "width": 437, "height": 441,
          "data": {"values": [{}]},
          "encoding": {
            "x": {"datum": 0, "type": "quantitative", "scale": {"domain": [-48.817, 45.161], "nice": false, "zero": false}},
            "y": {"datum": 0, "type": "quantitative", "scale": {"domain": [-44.086, 50.753], "nice": false, "zero": false}}
          },
          "layer": [
            {"data": {"name": "rings"}, "mark": {"type": "arc", "fillOpacity": 0, "stroke": "#8a8a8a", "strokeWidth": 0.8, "strokeDash": [3, 1]}, "encoding": {"theta": {"datum": 0, "type": "quantitative", "scale": {"domain": [0, 360], "range": [0, 6.283185307179586]}}, "theta2": {"datum": 360}, "radius": {"field": "r", "type": "quantitative", "stack": null, "scale": {"type": "linear", "domain": [0, 40], "range": [0, 186], "zero": true, "nice": false}}}},
            {"mark": {"type": "arc", "fillOpacity": 0, "stroke": "#8f8f8f", "strokeWidth": 0.8}, "encoding": {"theta": {"datum": 0, "type": "quantitative"}, "theta2": {"datum": 360}, "radius": {"datum": 40, "type": "quantitative"}}},
            {"data": {"name": "ticks"}, "mark": {"type": "arc", "fillOpacity": 0, "stroke": "#8f8f8f", "strokeWidth": 0.8}, "encoding": {"theta": {"field": "a", "type": "quantitative", "stack": null}, "theta2": {"field": "a"}, "radius": {"datum": 40, "type": "quantitative"}, "radius2": {"datum": 38.5}}},
            {"mark": {"type": "rule", "color": "#9a9a9a", "strokeWidth": 0.8}, "encoding": {"y": {"datum": -40, "type": "quantitative"}, "y2": {"datum": 40}}},
            {"mark": {"type": "rule", "color": "#777777", "strokeWidth": 0.9}, "encoding": {"x": {"datum": -40, "type": "quantitative"}, "x2": {"datum": 40}}},
            {"data": {"name": "axticks"}, "mark": {"type": "rule", "color": "#777777", "strokeWidth": 0.8}, "encoding": {"x": {"field": "t", "type": "quantitative"}, "y": {"datum": -0.8, "type": "quantitative"}, "y2": {"datum": 0.8}}},
            {"mark": {"type": "text", "text": "0%", "dy": -14}, "encoding": {}},
            {"data": {"name": "KB"}, "transform": [{"bin": {"step": 22.5, "extent": [0, 360]}, "field": "d", "as": ["a0", "a1"]}, {"stack": "v", "groupby": ["a0"], "sort": [{"field": "h", "order": "ascending"}], "as": ["r0", "r1"]}], "mark": {"type": "arc", "stroke": "#1f2a5e", "strokeWidth": 0.4, "strokeOpacity": 0.6}, "encoding": {"theta": {"field": "a0", "type": "quantitative", "stack": null}, "theta2": {"field": "a1"}, "radius": {"field": "r1", "type": "quantitative", "stack": null}, "radius2": {"field": "r0"}, "color": {"field": "h", "type": "nominal", "scale": {"domain": [">0 - 1", ">1 - 2", ">2 - 3", ">3 - 4", ">4 - 5", ">5 - 6", ">6"], "range": ["#3953a4", "#f2ea1d", "#67b846", "#e31f2b", "#7f3f98", "#f26b3a", "#1c1c5c"]}, "legend": {"title": "Wave Height (m)", "orient": "bottom", "direction": "horizontal", "columns": 7, "gridAlign": "each", "offset": 5, "titleAnchor": "middle", "titleOrient": "top", "titleFont": "Liberation Serif", "titleFontSize": 14, "titleFontWeight": "normal", "titleColor": "#1a1a1a", "titlePadding": 3, "labelFont": "Liberation Serif", "labelFontSize": 14, "labelColor": "#1a1a1a", "labelOffset": 2, "columnPadding": 9, "symbolType": "M-1,-0.6H1V0.6H-1Z", "symbolSize": 246, "symbolStrokeWidth": 0, "symbolOpacity": 1}}}},
            {"data": {"name": "pct"}, "mark": {"type": "text", "dy": -14}, "encoding": {"theta": {"datum": 90, "type": "quantitative"}, "radius": {"field": "r", "type": "quantitative", "stack": null}, "text": {"field": "lab", "type": "nominal"}}},
            {"data": {"name": "dirs"}, "mark": {"type": "text"}, "encoding": {"theta": {"field": "a", "type": "quantitative", "stack": null}, "radius": {"datum": 42.6, "type": "quantitative"}, "text": {"field": "lab", "type": "nominal"}}},
            {"mark": {"type": "point", "shape": "triangle-left", "filled": true, "color": "#000000", "opacity": 1, "size": 18}, "encoding": {"x": {"datum": 1, "type": "quantitative"}}},
            {"mark": {"type": "rect", "fill": "#ffffff", "stroke": "#b0b0b0", "strokeWidth": 1}, "encoding": {"x": {"datum": -17.37, "type": "quantitative"}, "x2": {"datum": 15.83}, "y": {"datum": 44.3, "type": "quantitative"}, "y2": {"datum": 48.4}}},
            {"mark": {"type": "text", "text": "Skyros Wave Chart (Buoy)"}, "encoding": {"x": {"datum": -0.77, "type": "quantitative"}, "y": {"datum": 46.35, "type": "quantitative"}}}
          ]
        },
        {
          "width": 436, "height": 441,
          "data": {"values": [{}]},
          "encoding": {
            "x": {"datum": 0, "type": "quantitative", "scale": {"domain": [-48.817, 44.946], "nice": false, "zero": false}},
            "y": {"datum": 0, "type": "quantitative", "scale": {"domain": [-44.086, 50.753], "nice": false, "zero": false}}
          },
          "layer": [
            {"data": {"name": "rings"}, "mark": {"type": "arc", "fillOpacity": 0, "stroke": "#8a8a8a", "strokeWidth": 0.8, "strokeDash": [3, 1]}, "encoding": {"theta": {"datum": 0, "type": "quantitative", "scale": {"domain": [0, 360], "range": [0, 6.283185307179586]}}, "theta2": {"datum": 360}, "radius": {"field": "r", "type": "quantitative", "stack": null, "scale": {"type": "linear", "domain": [0, 40], "range": [0, 186], "zero": true, "nice": false}}}},
            {"mark": {"type": "arc", "fillOpacity": 0, "stroke": "#8f8f8f", "strokeWidth": 0.8}, "encoding": {"theta": {"datum": 0, "type": "quantitative"}, "theta2": {"datum": 360}, "radius": {"datum": 40, "type": "quantitative"}}},
            {"data": {"name": "ticks"}, "mark": {"type": "arc", "fillOpacity": 0, "stroke": "#8f8f8f", "strokeWidth": 0.8}, "encoding": {"theta": {"field": "a", "type": "quantitative", "stack": null}, "theta2": {"field": "a"}, "radius": {"datum": 40, "type": "quantitative"}, "radius2": {"datum": 38.5}}},
            {"mark": {"type": "rule", "color": "#9a9a9a", "strokeWidth": 0.8}, "encoding": {"y": {"datum": -40, "type": "quantitative"}, "y2": {"datum": 40}}},
            {"mark": {"type": "rule", "color": "#777777", "strokeWidth": 0.9}, "encoding": {"x": {"datum": -40, "type": "quantitative"}, "x2": {"datum": 40}}},
            {"data": {"name": "axticks"}, "mark": {"type": "rule", "color": "#777777", "strokeWidth": 0.8}, "encoding": {"x": {"field": "t", "type": "quantitative"}, "y": {"datum": -0.8, "type": "quantitative"}, "y2": {"datum": 0.8}}},
            {"mark": {"type": "text", "text": "0%", "dy": -14}, "encoding": {}},
            {"data": {"name": "KE"}, "transform": [{"bin": {"step": 22.5, "extent": [0, 360]}, "field": "d", "as": ["a0", "a1"]}, {"stack": "v", "groupby": ["a0"], "sort": [{"field": "h", "order": "ascending"}], "as": ["r0", "r1"]}], "mark": {"type": "arc", "stroke": "#1f2a5e", "strokeWidth": 0.4, "strokeOpacity": 0.6}, "encoding": {"theta": {"field": "a0", "type": "quantitative", "stack": null}, "theta2": {"field": "a1"}, "radius": {"field": "r1", "type": "quantitative", "stack": null}, "radius2": {"field": "r0"}, "color": {"field": "h", "type": "nominal", "scale": {"domain": [">0 - 1", ">1 - 2", ">2 - 3", ">3 - 4", ">4 - 5", ">5 - 6", ">6"], "range": ["#3953a4", "#f2ea1d", "#67b846", "#e31f2b", "#7f3f98", "#f26b3a", "#1c1c5c"]}, "legend": {"title": "Wave Height (m)", "orient": "bottom", "direction": "horizontal", "columns": 7, "gridAlign": "each", "offset": 5, "titleAnchor": "middle", "titleOrient": "top", "titleFont": "Liberation Serif", "titleFontSize": 14, "titleFontWeight": "normal", "titleColor": "#1a1a1a", "titlePadding": 3, "labelFont": "Liberation Serif", "labelFontSize": 14, "labelColor": "#1a1a1a", "labelOffset": 2, "columnPadding": 9, "symbolType": "M-1,-0.6H1V0.6H-1Z", "symbolSize": 246, "symbolStrokeWidth": 0, "symbolOpacity": 1}}}},
            {"data": {"name": "pct"}, "mark": {"type": "text", "dy": -14}, "encoding": {"theta": {"datum": 90, "type": "quantitative"}, "radius": {"field": "r", "type": "quantitative", "stack": null}, "text": {"field": "lab", "type": "nominal"}}},
            {"data": {"name": "dirs"}, "mark": {"type": "text"}, "encoding": {"theta": {"field": "a", "type": "quantitative", "stack": null}, "radius": {"datum": 42.6, "type": "quantitative"}, "text": {"field": "lab", "type": "nominal"}}},
            {"mark": {"type": "point", "shape": "triangle-left", "filled": true, "color": "#000000", "opacity": 1, "size": 18}, "encoding": {"x": {"datum": 1, "type": "quantitative"}}},
            {"mark": {"type": "rect", "fill": "#ffffff", "stroke": "#b0b0b0", "strokeWidth": 1}, "encoding": {"x": {"datum": -18.15, "type": "quantitative"}, "x2": {"datum": 16.61}, "y": {"datum": 44.3, "type": "quantitative"}, "y2": {"datum": 48.4}}},
            {"mark": {"type": "text", "text": "Skyros Wave Chart (ERA-I)"}, "encoding": {"x": {"datum": -0.77, "type": "quantitative"}, "y": {"datum": 46.35, "type": "quantitative"}}}
          ]
        }
      ]
    }
  ]
}
